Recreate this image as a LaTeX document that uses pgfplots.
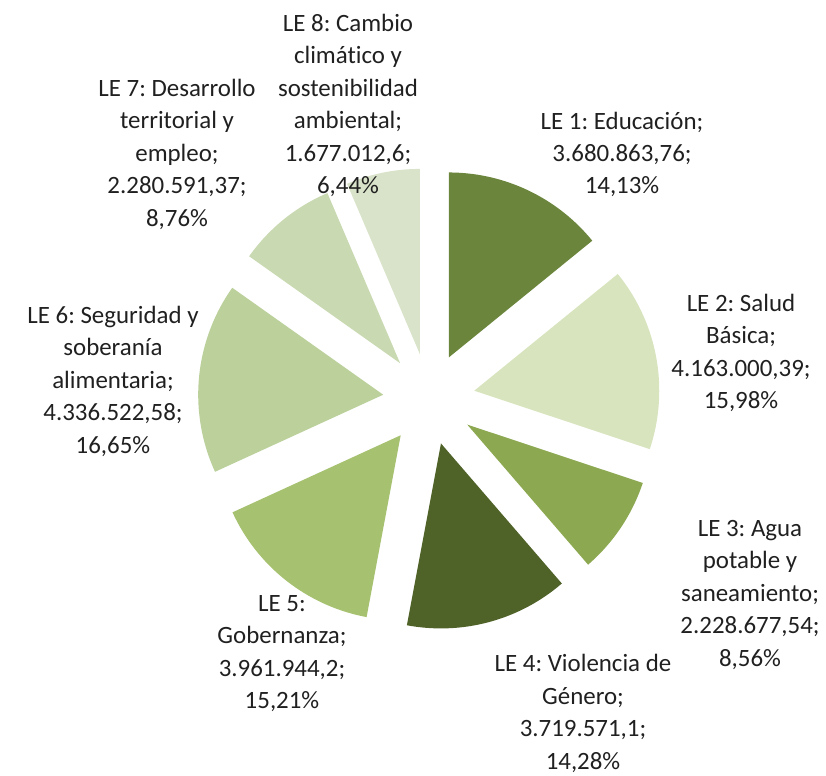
\documentclass[border=0pt]{standalone}
\usepackage{pgfplots}
\usepackage{pgfplotstable}
\pgfplotsset{compat=1.18}
\usepackage{fontspec}
\setmainfont{Carlito}[Ligatures=NoCommon]
\frenchspacing
\definecolor{c1}{HTML}{6B863C}
\definecolor{c2}{HTML}{D8E4BE}
\definecolor{c3}{HTML}{8CA851}
\definecolor{c4}{HTML}{4F6228}
\definecolor{c5}{HTML}{A6C170}
\definecolor{c6}{HTML}{BBD09B}
\definecolor{c7}{HTML}{C9D9B1}
\definecolor{c8}{HTML}{D9E3C9}
\definecolor{txt}{HTML}{202020}
\pgfplotstableread{
pct value col
14.13 3680863.76 c1
15.98 4163000.39 c2
8.56 2228677.54 c3
14.28 3719571.1 c4
15.21 3961944.2 c5
16.65 4336522.58 c6
8.76 2280591.37 c7
6.44 1677012.6 c8
}\datatable
\begin{document}
\begin{tikzpicture}
\begin{axis}[
  scale only axis, width=826bp, height=776bp,
  xmin=0, xmax=826, ymin=0, ymax=776, y dir=reverse,
  hide axis, clip=false, enlargelimits=false,
]
\def\cx{429}\def\cy{399}\def\rr{185}\def\ee{46}
\def\cum{0}
\pgfplotsforeachungrouped \i in {0,...,7} {
  \pgfplotstablegetelem{\i}{pct}\of\datatable \let\p\pgfplotsretval
  \pgfplotstablegetelem{\i}{col}\of\datatable \let\col\pgfplotsretval
  \pgfmathsetmacro\a{\cum*3.6}
  \pgfmathsetmacro\cum{\cum+\p}
  \pgfmathsetmacro\b{\cum*3.6}
  \pgfmathsetmacro\m{(\a+\b)/2}
  \pgfmathsetmacro\ox{\cx+\ee*sin(\m)}
  \pgfmathsetmacro\oy{\cy-\ee*cos(\m)}
  \edef\temp{\noexpand\addplot[fill=\col, draw=none, domain=\a:\b, samples=80, variable=\noexpand\t]
    ({\ox+\rr*sin(\noexpand\t)},{\oy-\rr*cos(\noexpand\t)}) -- (axis cs:\ox,\oy) -- cycle;}
  \temp
}
% anchor=base is the baseline of the LAST line of each label
\tikzset{lab/.style={align=center, anchor=base, inner sep=0pt, text=txt, font=\fontsize{25}{32.5}\selectfont}}
\node[lab] at (axis cs:348,193.5) {LE 8: Cambio\\climático y\\sostenibilidad\\ambiental;\\1.677.012,6;\\6,44\%};
\node[lab] at (axis cs:177,226) {LE 7: Desarrollo\\territorial y\\empleo;\\2.280.591,37;\\8,76\%};
\node[lab] at (axis cs:622,194) {LE 1: Educación;\\3.680.863,76;\\14,13\%};
\node[lab] at (axis cs:741,408.5) {LE 2: Salud\\Básica;\\4.163.000,39;\\15,98\%};
\node[lab] at (axis cs:750,666) {LE 3: Agua\\potable y\\saneamiento;\\2.228.677,54;\\8,56\%};
\node[lab] at (axis cs:583,769) {LE 4: Violencia de\\Género;\\3.719.571,1;\\14,28\%};
\node[lab] at (axis cs:282,708.5) {LE 5:\\Gobernanza;\\3.961.944,2;\\15,21\%};
\node[lab] at (axis cs:113,453) {LE 6: Seguridad y\\soberanía\\alimentaria;\\4.336.522,58;\\16,65\%};
\end{axis}
\pgfresetboundingbox
\useasboundingbox (current axis.south west) rectangle (current axis.north east);
\end{tikzpicture}
\end{document}
